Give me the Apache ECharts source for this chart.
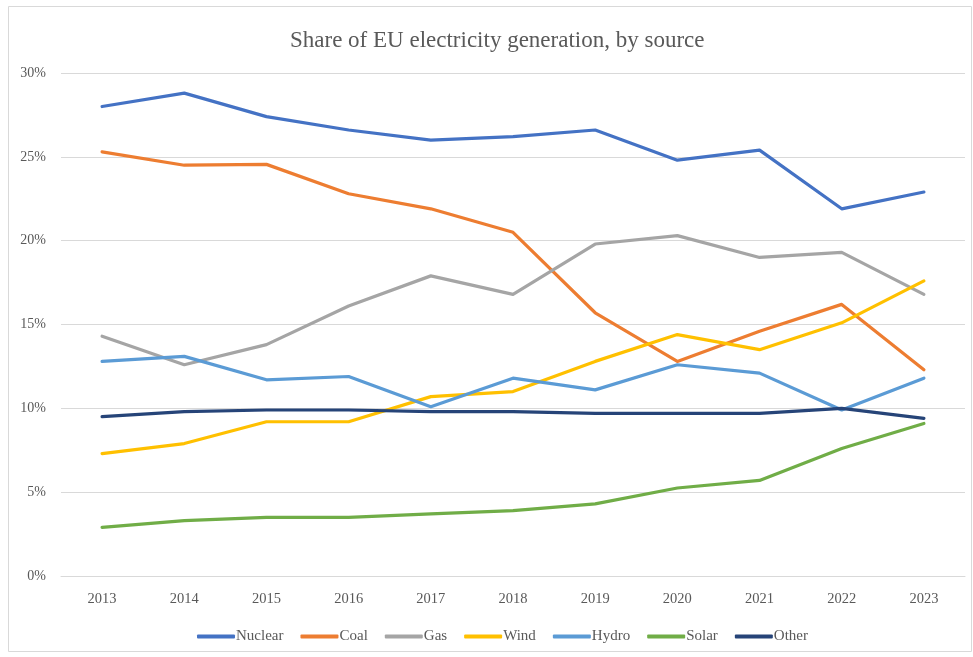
<!DOCTYPE html>
<html>
<head>
<meta charset="utf-8">
<script src="https://cdn.jsdelivr.net/npm/echarts@6/dist/echarts.min.js"></script>
<style>
  html, body { margin: 0; padding: 0; background: #fff; }
  #chart { width: 973px; height: 657px; }
</style>
</head>
<body>
<div id="chart"></div>
<script>
// Share of EU electricity generation by source, 2013–2023 (%)
const years = ['2013','2014','2015','2016','2017','2018','2019','2020','2021','2022','2023'];
const nuclear = [28.0, 28.8, 27.4, 26.6, 26.0, 26.2, 26.6, 24.8, 25.4, 21.9, 22.9];
const coal    = [25.3, 24.5, 24.55, 22.8, 21.9, 20.5, 15.7, 12.8, 14.6, 16.2, 12.3];
const gas     = [14.3, 12.6, 13.8, 16.1, 17.9, 16.8, 19.8, 20.3, 19.0, 19.3, 16.8];
const wind    = [7.3, 7.9, 9.2, 9.2, 10.7, 11.0, 12.8, 14.4, 13.5, 15.1, 17.6];
const hydro   = [12.8, 13.1, 11.7, 11.9, 10.1, 11.8, 11.1, 12.6, 12.1, 9.9, 11.8];
const solar   = [2.9, 3.3, 3.5, 3.5, 3.7, 3.9, 4.3, 5.25, 5.7, 7.6, 9.1];
const other   = [9.5, 9.8, 9.9, 9.9, 9.8, 9.8, 9.7, 9.7, 9.7, 10.0, 9.4];

const seriesNames = ['Nuclear','Coal','Gas','Wind','Hydro','Solar','Other'];
const seriesData = [nuclear, coal, gas, wind, hydro, solar, other];
const colors = ['#4472C4','#ED7D31','#A5A5A5','#FFC000','#5B9BD5','#70AD47','#264478'];

const serif = '"Liberation Serif", "DejaVu Serif", serif';

const chart = echarts.init(document.getElementById('chart'), null, { renderer: 'canvas' });
chart.setOption({
  animation: false,
  backgroundColor: '#ffffff',
  color: colors,
  title: {
    text: 'Share of EU electricity generation, by source',
    left: 285,
    top: 24,
    textStyle: { fontFamily: serif, fontSize: 23, fontWeight: 'normal', color: '#595959' }
  },
  graphic: [{
    type: 'rect',
    shape: { x: 8.5, y: 6.5, width: 963, height: 645 },
    style: { fill: 'none', stroke: '#d9d9d9', lineWidth: 1 },
    silent: true, z: -1
  }],
  legend: {
    top: 624,
    left: 192,
    itemWidth: 38,
    itemHeight: 4,
    itemGap: 17,
    icon: 'roundRect',
    textStyle: { fontFamily: serif, fontSize: 15, color: '#595959', padding: [0, 0, 0, -4] },
    data: seriesNames
  },
  grid: { left: 61, right: 8, top: 73, bottom: 81 },
  xAxis: {
    type: 'category',
    data: years,
    boundaryGap: true,
    axisLine: { show: true, lineStyle: { color: '#d9d9d9', width: 1 } },
    axisTick: { show: false },
    axisLabel: { fontFamily: serif, fontSize: 14.5, color: '#595959', margin: 16 }
  },
  yAxis: {
    type: 'value',
    min: 0, max: 30, interval: 5,
    axisLine: { show: false },
    axisTick: { show: false },
    splitLine: { lineStyle: { color: '#d9d9d9', width: 1 } },
    axisLabel: { fontFamily: serif, fontSize: 14, color: '#595959', margin: 15, formatter: v => v + '%' }
  },
  series: seriesNames.map((name, i) => ({
    name: name,
    type: 'line',
    data: seriesData[i],
    showSymbol: false,
    symbol: 'none',
    lineStyle: { width: 3.2, color: colors[i], cap: 'round', join: 'round' },
    itemStyle: { color: colors[i] }
  }))
});
</script>
</body>
</html>
